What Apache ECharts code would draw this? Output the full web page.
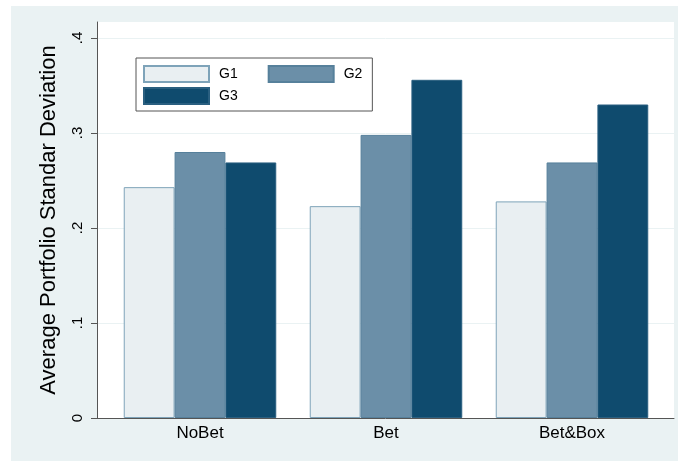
<!DOCTYPE html>
<html>
<head>
<meta charset="utf-8">
<script src="https://cdn.jsdelivr.net/npm/echarts@6/dist/echarts.min.js"></script>
<style>
  html, body { margin: 0; padding: 0; background: #ffffff; }
  #chart {
    position: absolute;
    left: 11px;
    top: 6px;
    width: 667px;
    height: 455px;
    background: #eaf2f3;
  }
</style>
</head>
<body>
<div id="chart"></div>
<script>
const categories = ['NoBet', 'Bet', 'Bet&Box']
const g1 = [0.243, 0.223, 0.228]
const g2 = [0.280, 0.298, 0.269]
const g3 = [0.269, 0.356, 0.330]
const yTicks = [0, 0.1, 0.2, 0.3, 0.4]

const font = "'Liberation Sans', Arial, sans-serif"
const fmtTick = v => (v === 0 ? '0' : String(+v.toFixed(1)).replace(/^0/, ''))

const chart = echarts.init(document.getElementById('chart'))

const barSeries = (name, data, fill, border) => ({
  name,
  type: 'bar',
  xAxisIndex: 1,
  yAxisIndex: 1,
  data,
  barGap: '0%',
  barCategoryGap: '18%',
  itemStyle: { color: fill, borderColor: border, borderWidth: 1 },
  emphasis: { disabled: true }
})

chart.setOption({
  animation: false,
  textStyle: { fontFamily: font },
  grid: [
    // white plot region with the axis lines
    { left: 86, right: 4, top: 16, bottom: 43, show: true, backgroundColor: '#ffffff', borderWidth: 0 },
    // bar groups
    { left: 96, right: 13, top: 32, bottom: 43 },
    // value scale: ticks, labels, gridlines across the whole plot
    { left: 86, right: 4, top: 32, bottom: 43 }
  ],
  legend: [
    {
      data: ['G1', 'G2'],
      left: 125,
      top: 52,
      orient: 'horizontal',
      itemWidth: 65,
      itemHeight: 16,
      itemGap: 30,
      padding: [7, 10, 28, 7],
      borderColor: '#555555',
      borderWidth: 1,
      backgroundColor: '#ffffff',
      selectedMode: false,
      icon: 'rect',
      textStyle: { fontSize: 14, color: '#000', fontFamily: font, padding: [0, 0, 0, 5] }
    },
    {
      data: ['G3'],
      left: 125,
      top: 74,
      orient: 'horizontal',
      itemWidth: 65,
      itemHeight: 16,
      padding: 7,
      selectedMode: false,
      icon: 'rect',
      textStyle: { fontSize: 14, color: '#000', fontFamily: font, padding: [0, 0, 0, 5] }
    }
  ],
  xAxis: [
    {
      gridIndex: 0,
      type: 'value',
      min: 0,
      max: 1,
      axisLine: { show: true, onZero: false, lineStyle: { color: '#555555', width: 1 } },
      axisTick: { show: false },
      axisLabel: { show: false },
      splitLine: { show: false }
    },
    {
      gridIndex: 1,
      type: 'category',
      data: categories,
      axisLine: { show: false },
      axisTick: { show: false },
      axisLabel: { color: '#000', fontSize: 17, margin: 7, fontFamily: font }
    },
    {
      gridIndex: 2,
      type: 'value',
      min: 0,
      max: 1,
      show: false
    }
  ],
  yAxis: [
    {
      gridIndex: 0,
      type: 'value',
      min: 0,
      max: 1,
      name: 'Average Portfolio Standar Deviation',
      nameLocation: 'middle',
      nameGap: 37,
      nameTextStyle: { fontSize: 22, color: '#000', fontFamily: font },
      axisLine: { show: true, onZero: false, lineStyle: { color: '#555555', width: 1 } },
      axisTick: { show: false },
      axisLabel: { show: false },
      splitLine: { show: false }
    },
    {
      gridIndex: 1,
      type: 'value',
      min: yTicks[0],
      max: yTicks[yTicks.length - 1],
      show: false
    },
    {
      gridIndex: 2,
      type: 'value',
      min: yTicks[0],
      max: yTicks[yTicks.length - 1],
      interval: 0.1,
      axisLine: { show: false, onZero: false },
      axisTick: { show: true, length: 6, lineStyle: { color: '#555555' } },
      axisLabel: { rotate: 90, fontSize: 15, color: '#000', margin: 12, formatter: fmtTick, fontFamily: font },
      splitLine: { show: true, lineStyle: { color: '#eaf2f3', width: 1 } }
    }
  ],
  series: [
    barSeries('G1', g1, '#e9eff2', '#7ea3b9'),
    barSeries('G2', g2, '#6b8fa8', '#56809b'),
    barSeries('G3', g3, '#0f4b6e', '#2a5f80')
  ]
})

window.addEventListener('resize', () => chart.resize())
</script>
</body>
</html>
